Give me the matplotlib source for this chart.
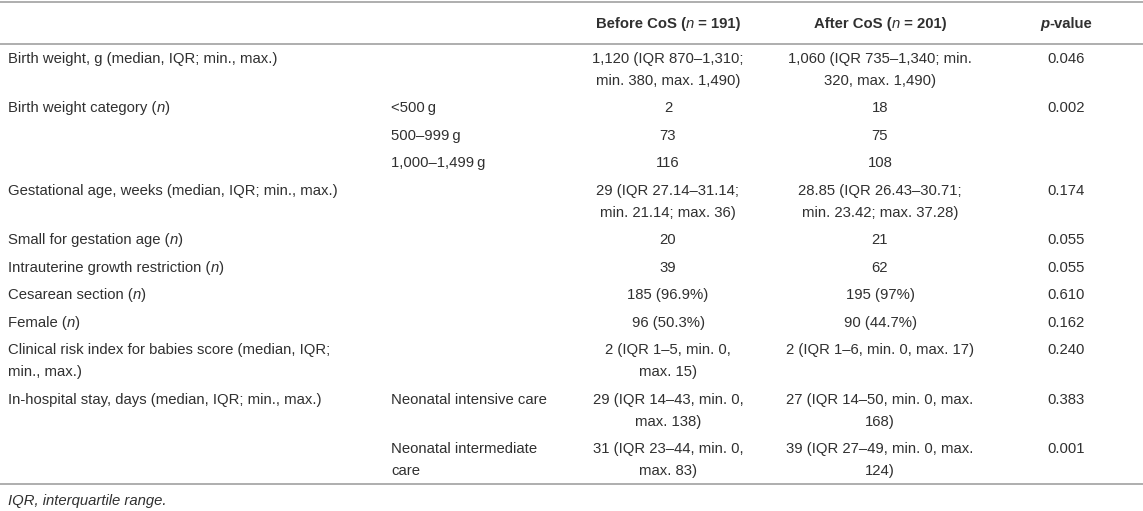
import matplotlib
matplotlib.use("Agg")
import matplotlib.pyplot as plt
import re

# ---------------- data ----------------
header = ["", "", "**Before CoS (***n*** = 191)**", "**After CoS (***n*** = 201)**", "***p*****-value**"]

labels = [
    "Birth weight, g (median, IQR; min., max.)",
    "Birth weight category (*n*)",
    "",
    "",
    "Gestational age, weeks (median, IQR; min., max.)",
    "Small for gestation age (*n*)",
    "Intrauterine growth restriction (*n*)",
    "Cesarean section (*n*)",
    "Female (*n*)",
    "Clinical risk index for babies score (median, IQR;\nmin., max.)",
    "In-hospital stay, days (median, IQR; min., max.)",
    "",
]
subgroups = [
    "", "<500\u2009g", "500\u2013999\u2009g", "1,000\u20131,499\u2009g", "", "", "", "", "", "",
    "Neonatal intensive care", "Neonatal intermediate\ncare",
]
before = [
    "1,120 (IQR 870\u20131,310;\nmin. 380, max. 1,490)", "2", "73", "116",
    "29 (IQR 27.14\u201331.14;\nmin. 21.14; max. 36)", "20", "39", "185 (96.9%)", "96 (50.3%)",
    "2 (IQR 1\u20135, min. 0,\nmax. 15)", "29 (IQR 14\u201343, min. 0,\nmax. 138)",
    "31 (IQR 23\u201344, min. 0,\nmax. 83)",
]
after = [
    "1,060 (IQR 735\u20131,340; min.\n320, max. 1,490)", "18", "75", "108",
    "28.85 (IQR 26.43\u201330.71;\nmin. 23.42; max. 37.28)", "21", "62", "195 (97%)", "90 (44.7%)",
    "2 (IQR 1\u20136, min. 0, max. 17)", "27 (IQR 14\u201350, min. 0, max.\n168)",
    "39 (IQR 27\u201349, min. 0, max.\n124)",
]
pvalues = ["0.046", "0.002", "", "", "0.174", "0.055", "0.055", "0.610", "0.162", "0.240", "0.383", "0.001"]
footnote = "*IQR, interquartile range.*"

# ---------------- layout ----------------
W, H = 1143, 511
FONT = "Liberation Sans"
FS = 10.7
TXT = "#303030"
LINEC = "#a8a8a8"

col_x = [8, 391, 668, 880, 1066]
col_ha = ["left", "left", "center", "center", "center"]

fig = plt.figure(figsize=(W / 100, H / 100), dpi=100)
fig.patch.set_facecolor("white")
renderer = fig.canvas.get_renderer()


def fy(ypx):
    return 1 - ypx / H


def fx(xpx):
    return xpx / W


def parse(s):
    # tokens: ***x*** bold italic, **x** bold, *x* italic
    segs = []
    pattern = re.compile(r"(\*\*\*[^*]+\*\*\*|\*\*[^*]+\*\*|\*[^*]+\*)")
    for part in pattern.split(s):
        if not part:
            continue
        if part.startswith("***"):
            segs.append((part[3:-3], "italic", "bold"))
        elif part.startswith("**"):
            segs.append((part[2:-2], "normal", "bold"))
        elif part.startswith("*"):
            segs.append((part[1:-1], "italic", "normal"))
        else:
            segs.append((part, "normal", "normal"))
    return segs


def rich(xpx, ypx, s, ha):
    segs = parse(s)
    widths = []
    for t, st, wt in segs:
        tmp = fig.text(0, 0, t, family=FONT, fontsize=FS, style=st, weight=wt)
        widths.append(tmp.get_window_extent(renderer).width)
        tmp.remove()
    total = sum(widths)
    x0 = xpx if ha == "left" else xpx - total / 2
    for (t, st, wt), w in zip(segs, widths):
        fig.text(fx(x0), fy(ypx), t, family=FONT, fontsize=FS, style=st, weight=wt,
                 color=TXT, ha="left", va="baseline")
        x0 += w


def hline(ypx):
    fig.add_artist(plt.Line2D([0, 1], [fy(ypx), fy(ypx)], color=LINEC, lw=1.3,
                              transform=fig.transFigure))


ROW1 = 27.5    # height of single-line row
LINE = 22      # extra per additional line
BASE = 5.0     # baseline offset below line center

top_line = 2
header_line = 44
hline(top_line)
hline(header_line)

hy = (top_line + header_line) / 2
for c, s in enumerate(header):
    if s:
        rich(col_x[c], hy + BASE, s, col_ha[c])

y = header_line
columns = [labels, subgroups, before, after, pvalues]
for r in range(len(labels)):
    nlines = max(len(col[r].split("\n")) for col in columns)
    for c, col in enumerate(columns):
        for k, ln in enumerate(col[r].split("\n")):
            if ln:
                cy = y + ROW1 / 2 + k * LINE
                rich(col_x[c], cy + BASE, ln, col_ha[c])
    y += ROW1 + (nlines - 1) * LINE

hline(y)
rich(8, y + 16 + BASE, footnote, "left")

fig.savefig("out.png", dpi=100, facecolor="white")
